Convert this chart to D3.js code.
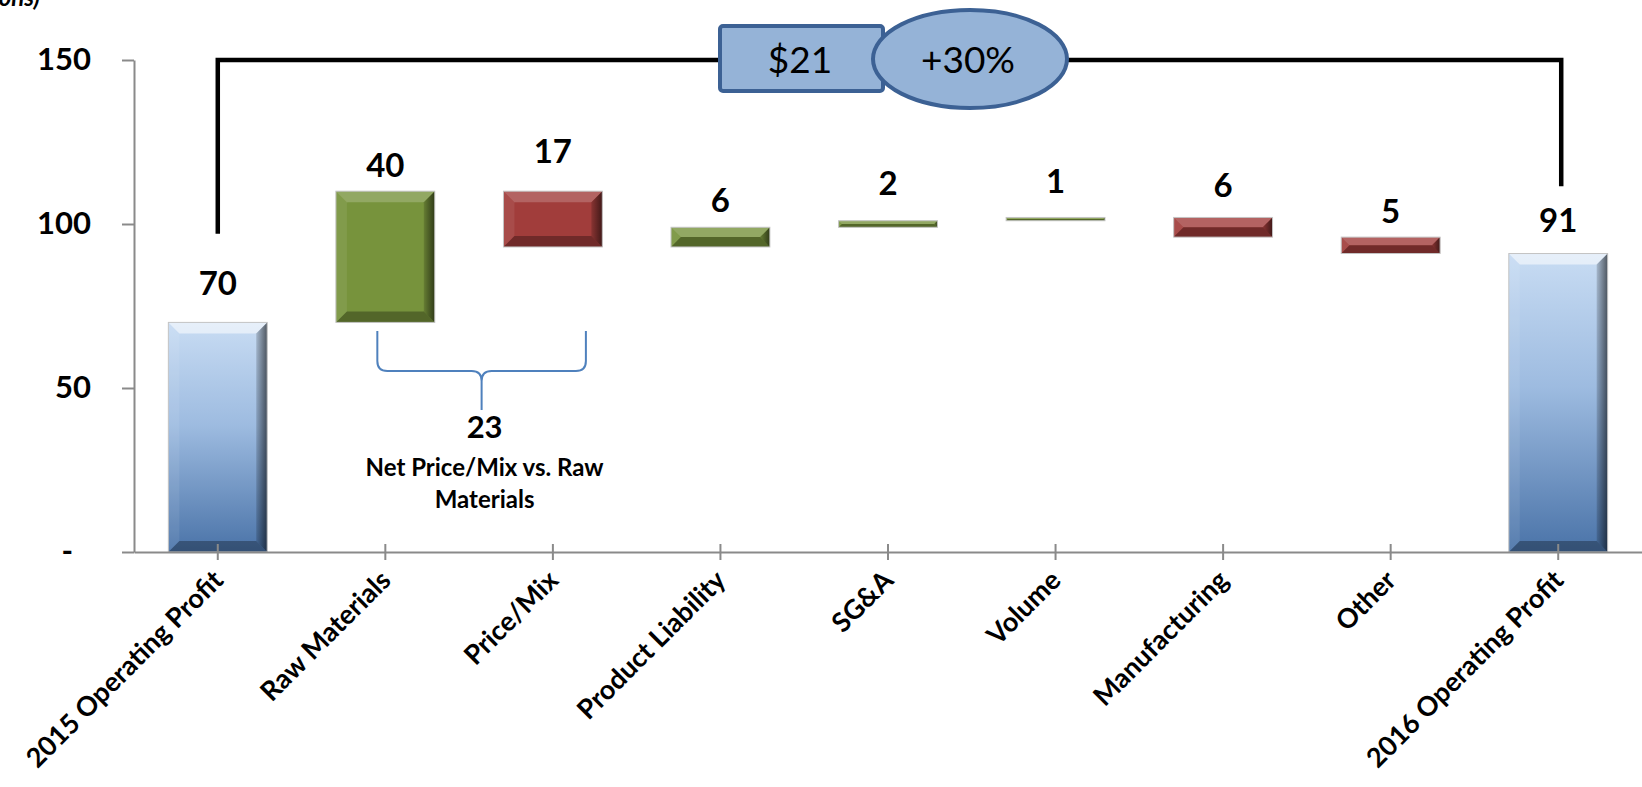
<!DOCTYPE html>
<html>
<head>
<meta charset="utf-8">
<script src="https://cdn.jsdelivr.net/npm/d3@7"></script>
<style>
  html, body { margin: 0; padding: 0; background: #fff; }
  svg { display: block; font-family: Lato, "Open Sans", sans-serif; }
</style>
</head>
<body>
<svg id="chart" width="1642" height="787"></svg>
<script>
// Operating profit bridge, 2015 -> 2016 ($ in millions)
const categories = ["2015 Operating Profit", "Raw Materials", "Price/Mix", "Product Liability",
                    "SG&A", "Volume", "Manufacturing", "Other", "2016 Operating Profit"];
const kinds   = ["total", "up", "down", "up", "up", "up", "down", "down", "total"];
const amounts = [70, 40, 17, 6, 2, 1, 6, 5, 91];
const yTicks  = [0, 50, 100, 150];
const netNote = ["Net Price/Mix vs. Raw", "Materials"];

// label lift above each bar's top (px)
const labelLift = [27, 14, 28, 15, 26, 24, 20, 14, 22];

const W = 1642, H = 787;
const svg = d3.select("#chart");

// running totals -> floating segments
let run = 0;
const bars = categories.map((c, i) => {
  let lo, hi;
  if (kinds[i] === "total") { lo = 0; hi = amounts[i]; run = amounts[i]; }
  else if (kinds[i] === "up") { lo = run; hi = run + amounts[i]; run = hi; }
  else { hi = run; lo = run - amounts[i]; run = lo; }
  return { cat: c, kind: kinds[i], value: amounts[i], lo, hi, lift: labelLift[i] };
});

const x = d3.scaleBand().domain(categories).range([134, 1642])
  .paddingInner(0.41).paddingOuter(0.205);
const y = d3.scaleLinear().domain([0, 150]).range([552, 60]);

// ---- gradients ----
const defs = svg.append("defs");
const blue = defs.append("linearGradient").attr("id", "gBlue")
  .attr("x1", 0).attr("y1", 0).attr("x2", 0).attr("y2", 1);
blue.append("stop").attr("offset", 0).attr("stop-color", "#c8dcf3");
blue.append("stop").attr("offset", 0.45).attr("stop-color", "#9dbbe0");
blue.append("stop").attr("offset", 1).attr("stop-color", "#4a73a8");

const rightShade = defs.append("linearGradient").attr("id", "gRight")
  .attr("x1", 0).attr("y1", 0).attr("x2", 1).attr("y2", 0);
rightShade.append("stop").attr("offset", 0).attr("stop-color", "#000").attr("stop-opacity", 0.15);
rightShade.append("stop").attr("offset", 1).attr("stop-color", "#000").attr("stop-opacity", 0.6);

const fills = { total: "url(#gBlue)", up: "#77933c", down: "#a13d3b" };

// ---- bars with bevelled edges ----
const gBars = svg.append("g");
bars.forEach(d => {
  const x0 = x(d.cat), w = x.bandwidth();
  const y0 = y(d.hi), h = y(d.lo) - y(d.hi);
  const b = Math.min(11, h / 2, w / 2);
  const g = gBars.append("g");
  g.append("rect").attr("x", x0).attr("y", y0).attr("width", w).attr("height", h)
    .attr("fill", fills[d.kind]);
  const x1 = x0 + w, y1 = y0 + h;
  const poly = (pts, fill, op) => g.append("polygon")
    .attr("points", pts.map(p => p.join(",")).join(" "))
    .attr("fill", fill).attr("fill-opacity", op);
  poly([[x0, y0], [x1, y0], [x1 - b, y0 + b], [x0 + b, y0 + b]], "#fff", d.kind === "total" ? 0.55 : 0.2);
  poly([[x0, y0], [x0 + b, y0 + b], [x0 + b, y1 - b], [x0, y1]], "#fff", 0.08);
  poly([[x1, y0], [x1, y1], [x1 - b, y1 - b], [x1 - b, y0 + b]], "url(#gRight)", 1);
  poly([[x0, y1], [x0 + b, y1 - b], [x1 - b, y1 - b], [x1, y1]], "#000", 0.3);
  g.append("rect").attr("x", x0).attr("y", y0).attr("width", w).attr("height", h)
    .attr("fill", "none").attr("stroke", "#c4c4c4").attr("stroke-width", 1);
});

// ---- axes ----
const axisColor = "#8a8a8a";
const yAxis = svg.append("g").attr("transform", `translate(${134},0)`)
  .call(d3.axisLeft(y).tickValues(yTicks).tickSizeInner(12).tickSizeOuter(0).tickPadding(31)
    .tickFormat(d => d === 0 ? "-" : d));
yAxis.select(".domain").attr("stroke", axisColor).attr("stroke-width", 2);
yAxis.selectAll(".tick line").attr("stroke", axisColor).attr("stroke-width", 2);
yAxis.selectAll(".tick text").attr("fill", "#000").attr("font-family", "Lato")
  .attr("font-weight", 700).attr("font-size", 31)
  .attr("dx", d => d === 0 ? -18 : 0);

const xAxis = svg.append("g").attr("transform", `translate(0,${y(0)})`)
  .call(d3.axisBottom(x).tickSizeInner(8).tickSizeOuter(0).tickFormat(""));
xAxis.select(".domain").attr("stroke", axisColor).attr("stroke-width", 2);
xAxis.selectAll(".tick line").attr("y1", -8).attr("stroke", axisColor).attr("stroke-width", 2);

// rotated category labels
svg.append("g").selectAll("text").data(categories).join("text")
  .attr("transform", c => `translate(${x(c) + x.bandwidth() / 2 + 7},${y(0) + 30}) rotate(-45)`)
  .attr("text-anchor", "end")
  .attr("font-family", "Lato").attr("font-weight", 700).attr("font-size", 27)
  .attr("fill", "#000")
  .text(c => c);

// ---- value labels ----
svg.append("g").selectAll("text").data(bars).join("text")
  .attr("x", d => x(d.cat) + x.bandwidth() / 2)
  .attr("y", d => y(d.hi) - d.lift)
  .attr("text-anchor", "middle")
  .attr("font-family", "Lato").attr("font-weight", 700).attr("font-size", 33)
  .attr("fill", "#000")
  .text(d => d.value);

// ---- overall change bracket ----
const start = bars[0], end = bars[bars.length - 1];
const lx = x(start.cat) + x.bandwidth() / 2, rx = x(end.cat) + x.bandwidth() / 2 + 3;
svg.append("path")
  .attr("d", `M${lx},${y(97)} V${y(150)} H${rx} V${y(111.5)}`)
  .attr("fill", "none").attr("stroke", "#000").attr("stroke-width", 4.5);

const delta = end.value - start.value;
const pct = Math.round(delta / start.value * 100);
const calloutFill = "#95b3d7", calloutStroke = "#3c6194";
svg.append("rect").attr("x", 720).attr("y", 26).attr("width", 163).attr("height", 65)
  .attr("rx", 3).attr("fill", calloutFill).attr("stroke", calloutStroke).attr("stroke-width", 4);
svg.append("ellipse").attr("cx", 970).attr("cy", 59).attr("rx", 97).attr("ry", 49)
  .attr("fill", calloutFill).attr("stroke", calloutStroke).attr("stroke-width", 4);
svg.append("text").attr("x", 800).attr("y", 73).attr("text-anchor", "middle")
  .attr("font-family", "Lato").attr("font-size", 37).attr("fill", "#000")
  .text(`$${delta}`);
svg.append("text").attr("x", 968).attr("y", 73).attr("text-anchor", "middle")
  .attr("font-family", "Lato").attr("font-size", 37).attr("fill", "#000")
  .text(`+${pct}%`);

// ---- net price/mix vs raw materials brace ----
const bl = x(categories[1]) + x.bandwidth() / 2 - 8;
const br = x(categories[2]) + x.bandwidth() / 2 + 33;
const bm = (bl + br) / 2;
const bt = 331, bh = 371, bs = 410, r = 10;
svg.append("path")
  .attr("d", `M${bl},${bt} V${bh - r} Q${bl},${bh} ${bl + r},${bh} H${bm - r} Q${bm},${bh} ${bm},${bh + r} V${bs}
              M${br},${bt} V${bh - r} Q${br},${bh} ${br - r},${bh} H${bm + r} Q${bm},${bh} ${bm},${bh + r}`)
  .attr("fill", "none").attr("stroke", "#4f81bd").attr("stroke-width", 2);

const net = amounts[1] - amounts[2];
svg.append("text").attr("x", bm + 3).attr("y", 438).attr("text-anchor", "middle")
  .attr("font-family", "Lato").attr("font-weight", 700).attr("font-size", 31)
  .text(net);
svg.append("text").attr("x", bm + 3).attr("y", 476).attr("text-anchor", "middle")
  .attr("font-family", "Lato").attr("font-weight", 700).attr("font-size", 24)
  .selectAll("tspan").data(netNote).join("tspan")
  .attr("x", bm + 3).attr("dy", (d, i) => i ? 32 : 0).text(d => d);

// units note at the top-left corner
svg.append("text").attr("x", 40).attr("y", 6).attr("text-anchor", "end")
  .attr("font-family", "Lato").attr("font-weight", 700).attr("font-style", "italic")
  .attr("font-size", 24).text("($ in millions)");
</script>
</body>
</html>
